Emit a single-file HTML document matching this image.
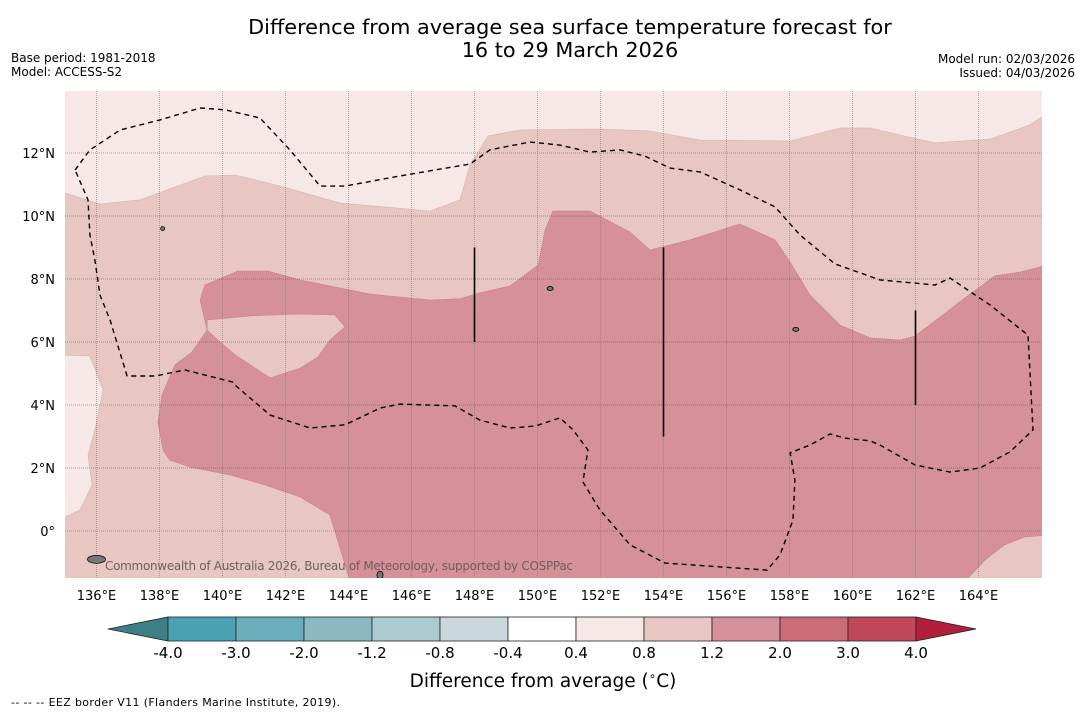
<!DOCTYPE html>
<html><head><meta charset="utf-8">
<style>
body{margin:0;background:#fff;width:1085px;height:713px;overflow:hidden;font-family:"Liberation Sans","DejaVu Sans",sans-serif;}
svg{display:block}
</style></head>
<body>
<svg id="chart" width="1085" height="713" xmlns="http://www.w3.org/2000/svg" font-family="DejaVu Sans, Liberation Sans, sans-serif">
<text x="570" y="34" text-anchor="middle" font-size="20.8">Difference from average sea surface temperature forecast for</text>
<text x="570" y="57" text-anchor="middle" font-size="20.8">16 to 29 March 2026</text>
<text x="11" y="62" font-size="12">Base period: 1981-2018</text>
<text x="11" y="76" font-size="12">Model: ACCESS-S2</text>
<text x="1075" y="63" text-anchor="end" font-size="12">Model run: 02/03/2026</text>
<text x="1075" y="77" text-anchor="end" font-size="12">Issued: 04/03/2026</text>
<defs><clipPath id="mapclip"><rect x="65" y="91" width="977" height="487"/></clipPath></defs>
<g id="map" clip-path="url(#mapclip)"></g>
<g id="axes"></g>
<g id="cbar"></g>
<text x="543" y="687" text-anchor="middle" font-size="18.5">Difference from average (<tspan font-size="12" dy="-7">∘</tspan><tspan dy="7">C)</tspan></text>
<text x="11" y="706" font-size="11" textLength="329">--  --  -- EEZ border V11 (Flanders Marine Institute, 2019).</text>
</svg>
<script>
const NS="http://www.w3.org/2000/svg";
const lonTicks=[136,138,140,142,144,146,148,150,152,154,156,158,160,162,164];
const latTicks=[0,2,4,6,8,10,12];
const cbarLevels=["-4.0","-3.0","-2.0","-1.2","-0.8","-0.4","0.4","0.8","1.2","2.0","3.0","4.0"];
const cbarColors=["#4aa1b1","#6aaebb","#8ab9c4","#abcbd0","#c8d8dc","#ffffff","#f5e8e7","#e8c7c3","#d69097","#cb6c77","#bf4757"];
const midZone=[[135,10.73],[136.11,10.38],[137.38,10.51],[139.44,11.27],[140.4,11.3],[141.83,10.95],[143.73,10.41],[146.59,10.16],[147.54,10.51],[147.86,11.62],[148.43,12.54],[149.44,12.73],[151.98,12.76],[153.57,12.7],[155.16,12.41],[158.02,12.38],[159.6,12.79],[160.56,12.79],[161.51,12.57],[162.62,12.32],[164.37,12.44],[165.63,12.89],[166.2,13.27],[166.2,-1.8],[134.8,-1.8],[134.8,0.35],[135.48,0.67],[135.86,1.46],[135.73,2.41],[135.95,3.21],[136.21,4.48],[135.79,5.56],[134.8,5.59],[134.8,10.73]];
const warmZone=[[137.95,3.46],[138.08,4.32],[138.49,5.27],[139.03,5.68],[139.51,6.38],[139.29,7.33],[139.44,7.81],[140.49,8.25],[141.44,8.25],[142.46,7.97],[144.68,7.52],[146.59,7.33],[147.54,7.37],[148.17,7.56],[149.13,7.78],[150.02,8.44],[150.24,9.56],[150.49,10.16],[151.67,10.16],[152.94,9.49],[153.57,8.92],[154.84,9.24],[156.43,9.75],[157.54,9.24],[158.02,8.54],[158.65,7.49],[159.6,6.54],[160.56,6.13],[161.51,6.06],[161.98,6.19],[162.78,6.79],[163.57,7.4],[164.52,8.1],[165.32,8.22],[166.2,8.44],[166.2,-0.13],[165.46,-0.19],[164.83,-0.44],[164.2,-0.92],[163.57,-1.6],[144.05,-1.6],[143.41,0.51],[142.46,1.08],[141.35,1.46],[140.24,1.78],[138.97,2.03],[138.33,2.25],[138.11,2.57]];
const coolIsland=[[139.51,6.7],[140.87,6.83],[142.46,6.89],[143.57,6.86],[143.89,6.48],[143.41,6.06],[143.03,5.52],[142.46,5.17],[141.51,4.86],[140.4,5.59],[139.92,6.0],[139.51,6.38]];
const eezBorder=[[135.32,11.46],[135.79,12.1],[136.75,12.73],[138.02,13.05],[139.29,13.43],[140.08,13.37],[141.19,13.11],[142.14,12.1],[143.1,10.95],[143.89,10.95],[145.63,11.27],[147.86,11.65],[148.49,12.1],[149.76,12.35],[150.71,12.25],[151.67,12.03],[152.62,12.1],[153.41,11.9],[154.21,11.52],[155.16,11.4],[156.43,10.83],[157.54,10.29],[158.33,9.4],[159.44,8.48],[160.87,7.97],[162.62,7.81],[163.1,8.03],[164.37,7.17],[165.57,6.22],[165.73,3.21],[165.0,2.51],[164.05,2.0],[163.1,1.87],[161.98,2.1],[160.87,2.73],[160.56,2.86],[159.76,2.95],[159.29,3.08],[158.65,2.73],[158.02,2.48],[158.17,1.62],[158.11,0.35],[157.7,-0.76],[157.29,-1.24],[154.05,-1.02],[152.94,-0.44],[151.98,0.67],[151.44,1.56],[151.6,2.57],[151.13,3.21],[150.71,3.59],[149.92,3.33],[149.13,3.27],[148.17,3.52],[147.38,3.97],[145.63,4.03],[145.0,3.9],[143.89,3.37],[142.78,3.27],[141.51,3.68],[140.4,4.63],[140.32,4.73],[138.81,5.11],[137.86,4.92],[136.97,4.92],[136.43,6.7],[136.11,7.49],[135.95,8.6],[135.79,9.4],[135.73,10.51]];
const meridianLines=[[148,6,9],[154,3,9],[162,4,7]];
const islands=[[136.0,-0.9,9,4],[148.8,14.2,3,3],[158.2,6.4,3,2],[150.4,7.7,3,2],[138.1,9.6,2,2],[145.0,-1.4,3,4]];
const xOf=lon=>65+(lon-135)*31.5;
const yOf=lat=>531-lat*31.5;
const pts=a=>a.map(p=>xOf(p[0]).toFixed(1)+","+yOf(p[1]).toFixed(1)).join(" ");
const map=document.getElementById("map");
const axes=document.getElementById("axes");
const cb=document.getElementById("cbar");
function mk(tag,attrs,parent){const e=document.createElementNS(NS,tag);for(const k in attrs)e.setAttribute(k,attrs[k]);parent.appendChild(e);return e;}
let e;
e=mk("rect",{x:65,y:91,width:977,height:487,fill:"#f5e8e7"},map);


e=mk("polygon",{points:pts(midZone),fill:"#e8c7c3",stroke:"#d8b0ad","stroke-width":0.6},map);


e=mk("polygon",{points:pts(warmZone),fill:"#d69097",stroke:"#c98088","stroke-width":0.6},map);


e=mk("polygon",{points:pts(coolIsland),fill:"#e8c7c3",stroke:"#c98088","stroke-width":0.6},map);


lonTicks.forEach(l=>{
  e=mk("line",{x1:xOf(l),x2:xOf(l),y1:91,y2:578,stroke:"#777","stroke-width":0.6,"stroke-dasharray":"1,1"},map);
  
  
  e=mk("text",{x:xOf(l),y:600,"text-anchor":"middle","font-size":13},axes);
  e.textContent=l+"°E";
  
  
});
latTicks.forEach(l=>{
  e=mk("line",{x1:65,x2:1042,y1:yOf(l),y2:yOf(l),stroke:"#555","stroke-width":0.6,"stroke-dasharray":"1,1"},map);
  
  
  e=mk("text",{x:55,y:yOf(l)+5,"text-anchor":"end","font-size":13},axes);
  e.textContent=l===0?"0°":l+"°N";
  
  
});
e=mk("polygon",{points:pts(eezBorder),fill:"none",stroke:"#000","stroke-width":1.4,"stroke-dasharray":"5,4"},map);


meridianLines.forEach(m=>{
  e=mk("line",{x1:xOf(m[0]),x2:xOf(m[0]),y1:yOf(m[2]),y2:yOf(m[1]),stroke:"#000","stroke-width":1.6},map);
  
  
});
islands.forEach(i=>{
  e=mk("ellipse",{cx:xOf(i[0]),cy:yOf(i[1]),rx:i[2],ry:i[3],fill:"#777",stroke:"#000","stroke-width":0.8},map);
  
  
});
e=mk("text",{x:105,y:570,"font-size":12,fill:"#6e6060",textLength:468},map);
e.textContent="Commonwealth of Australia 2026, Bureau of Meteorology, supported by COSPPac";


// colorbar
const cx0=168,cw=68,cy=617,ch=24;
e=mk("polygon",{points:`${cx0},${cy} ${cx0},${cy+ch} 108,${cy+ch/2}`,fill:"#3d7f87",stroke:"#222","stroke-width":0.8},cb);


cbarColors.forEach((c,i)=>{
  e=mk("rect",{x:cx0+i*cw,y:cy,width:cw,height:ch,fill:c,stroke:"#222","stroke-width":0.8},cb);
  
  
});
const xe=cx0+cbarColors.length*cw;
e=mk("polygon",{points:`${xe},${cy} ${xe},${cy+ch} ${xe+60},${cy+ch/2}`,fill:"#b01f3b",stroke:"#222","stroke-width":0.8},cb);


cbarLevels.forEach((t,i)=>{
  e=mk("text",{x:cx0+i*cw,y:658,"text-anchor":"middle","font-size":15},cb);
  e.textContent=t;
  
  
});
</script>
</body></html>
